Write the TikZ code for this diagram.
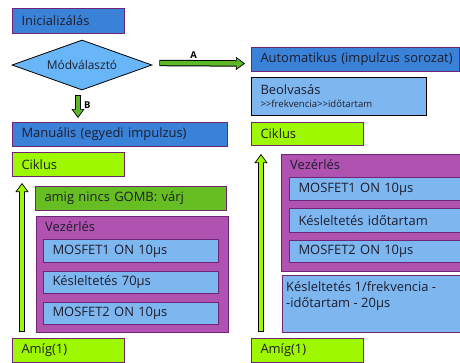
\documentclass[tikz,border=0pt]{standalone}
\usepackage{fontspec}
\setmainfont{Open Sans}
\usetikzlibrary{shapes.geometric,arrows.meta,calc}
\definecolor{boxblue}{RGB}{58,129,216}
\definecolor{diablue}{RGB}{104,182,248}
\definecolor{paleblue}{RGB}{126,182,240}
\definecolor{lime}{RGB}{158,248,0}
\definecolor{grass}{RGB}{102,190,34}
\definecolor{arrgreen}{RGB}{92,184,40}
\definecolor{vezpurple}{RGB}{176,82,176}
\definecolor{edge}{RGB}{112,36,120}
\definecolor{ink}{RGB}{30,30,45}

\begin{document}
\begin{tikzpicture}[x=1bp, y=-1bp,
    box/.style={draw=edge, line width=1bp, anchor=north west, inner xsep=9bp, inner ysep=0bp,
                align=left, text=ink, font=\fontsize{13}{15}\selectfont},
    sz/.style 2 args={text width=#1bp, minimum height=#2bp},
    toptext/.style={anchor=north west, inner xsep=9bp, inner ysep=5bp, align=left, text=ink,
                    font=\fontsize{13}{16}\selectfont},
    dia/.style={diamond, draw=black, line width=.8bp, fill=diablue, aspect=2.8, inner sep=0bp,
                minimum width=140bp, minimum height=50bp, text=ink, font=\fontsize{12}{13}\selectfont},
    fatline/.style={line width=6.4bp, draw=black,
                    -{Triangle[length=9bp, width=13bp, line width=.7bp, fill=#1]}},
    fatfill/.style={line width=4.4bp, draw=#1, shorten >=8bp, shorten <=.7bp},
    arrlbl/.style={inner sep=0bp, font=\bfseries\fontsize{9.5}{10}\selectfont}]
  \useasboundingbox (0,0) rectangle (460,362);

  %%% start and mode select
  \node[box, fill=boxblue, sz={94}{25}] (init) at (12,8) {Inicializálás};
  \node[dia] (mode) at (82,65) {Módválasztó};

  %%% automatic branch (right)
  \node[box, fill=boxblue, sz={190}{24}] (auto) at (251,47) {\mbox{Automatikus (impulzus sorozat)}};
  \node[box, fill=paleblue, draw=black, sz={157}{38}] (read) at (251,77)
       {Beolvasás\\[-2bp]{\fontsize{9.6}{11}\selectfont >{}>frekvencia>{}>időtartam}};
  \node[box, fill=lime, sz={94}{23}] (cikR) at (251,122) {Ciklus};
  \node[box, fill=vezpurple, sz={172}{117}, label={[toptext]north west:Vezérlés}] (vezR) at (281,154) {};
  \node[box, fill=paleblue, sz={162}{23}] (m1R) at (289,177) {MOSFET1 ON 10µs};
  \node[box, fill=paleblue, sz={162}{24}] (kR) at (289,208) {Késleltetés időtartam};
  \node[box, fill=paleblue, sz={162}{22}] (m2R) at (289,240) {MOSFET2 ON 10µs};
  \node[box, fill=paleblue, sz={170}{57},
        label={[toptext, inner xsep=4bp, inner ysep=6bp]north west:Késleltetés 1/frekvencia -\\-időtartam - 20µs}] (kfR) at (282,275) {};
  \node[box, fill=lime, sz={94}{24}] (amR) at (251,338) {Amíg(1)};

  %%% manual branch (left)
  \node[box, fill=boxblue, sz={197}{24}] (manu) at (12,122) {Manuális (egyedi impulzus)};
  \node[box, fill=lime, sz={94}{24}] (cikL) at (12,152) {Ciklus};
  \node[box, fill=grass, sz={173}{24}] (wait) at (35,186) {amig nincs GOMB: várj};
  \node[box, fill=vezpurple, sz={174}{116}, label={[toptext]north west:Vezérlés}] (vezL) at (36,216) {};
  \node[box, fill=paleblue, sz={157}{23}] (m1L) at (43,239) {MOSFET1 ON 10µs};
  \node[box, fill=paleblue, sz={157}{22}] (kL) at (43,271) {Késleltetés 70µs};
  \node[box, fill=paleblue, sz={157}{22}] (m2L) at (43,302) {MOSFET2 ON 10µs};
  \node[box, fill=lime, sz={94}{24}] (amL) at (12,338) {Amíg(1)};

  %%% fat arrows: black pass with tip, then coloured shaft
  \coordinate (aS) at ($(mode.east)+(7,-2)$);
  \coordinate (aE) at ($(auto.west)+(-6,4)$);
  \coordinate (bS) at ($(mode.south)+(-4,5)$);
  \coordinate (bE) at ($(bS |- manu.north)+(0,-4)$);
  \coordinate (uLS) at ($(amL.north west)+(10,-6)$);
  \coordinate (uLE) at ($(cikL.south west)+(10,6)$);
  \coordinate (uRS) at ($(amR.north west)+(10,-6)$);
  \coordinate (uRE) at ($(cikR.south west)+(10,8)$);

  \draw[fatline=arrgreen] (aS) -- (aE);
  \draw[fatfill=arrgreen] (aS) -- node[arrlbl, pos=.4, above=3bp] (labA) {A} (aE);
  \draw[fatline=arrgreen] (bS) -- (bE);
  \draw[fatfill=arrgreen] (bS) -- node[arrlbl, pos=.45, right=4bp] (labB) {B} (bE);
  \draw[fatline=lime] (uLS) -- (uLE);
  \draw[fatfill=lime] (uLS) -- (uLE);
  \draw[fatline=lime] (uRS) -- (uRE);
  \draw[fatfill=lime] (uRS) -- (uRE);
\end{tikzpicture}
\end{document}
